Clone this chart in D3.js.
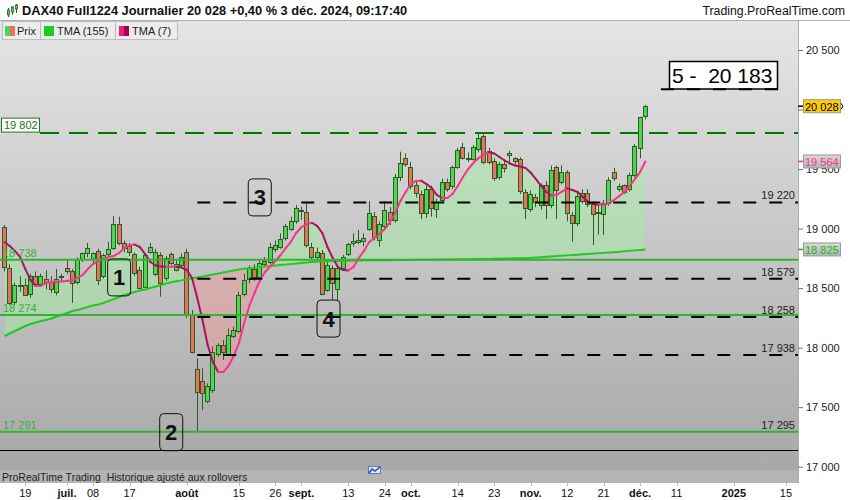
<!DOCTYPE html>
<html><head><meta charset="utf-8">
<script src="https://cdn.jsdelivr.net/npm/d3@7"></script>
<style>
html,body{margin:0;padding:0;background:#fff;}
svg{display:block;font-family:"Liberation Sans",Arial,sans-serif;}
</style></head><body>
<svg id="c" width="850" height="500"></svg>
<script>
// ---- DATA (DAX40 Full1224 daily, 13 June -> 3 Dec 2024) ----
const opens = [19010,18670,18380,18520,18530,18445,18605,18540,18580,18555,
18470,18595,18672,18646,18545,18742,18792,18742,18814,18602,
18786,18837,19038,18876,18850,18786,18652,18512,18806,18624,
18778,18582,18786,18652,18700,18806,18282,17818,17720,17554,
17650,17946,18022,17944,18098,18140,18450,18574,18658,18590,
18728,18722,18826,18848,18918,19000,19058,19150,19142,18848,
18764,18798,18484,18666,18490,18666,18784,18876,18890,18896,
19002,19108,18904,19022,19142,19072,19430,19590,19520,19363,
19290,19128,19332,19170,19240,19394,19358,19514,19682,19590,
19582,19666,19778,19654,19570,19436,19542,19612,19590,19582,
19310,19162,19262,19198,19366,19198,19514,19394,19472,19114,
19044,19296,19302,19212,19130,19122,19212,19472,19338,19366,
19330,19450,19674,19940];
const highs = [19030,18700,18545,18600,18580,18620,18640,18620,18650,18600,
18660,18620,18740,18660,18760,18800,18880,18800,18830,18790,
18890,19106,19100,18900,18880,18800,18680,18790,18880,18830,
18800,18770,18800,18740,18790,18830,18316,17910,17826,17700,
18008,18036,18064,18162,18176,18470,18620,18690,18700,18740,
18760,18880,18900,18960,19040,19100,19198,19184,19212,18880,
18840,18820,18720,18690,18690,18780,18880,18960,18990,18960,
19232,19140,19060,19232,19180,19460,19646,19632,19560,19400,
19320,19360,19360,19250,19420,19420,19530,19680,19720,19640,
19700,19800,19790,19680,19590,19560,19580,19654,19600,19600,
19330,19320,19290,19380,19400,19530,19530,19530,19490,19140,
19300,19330,19330,19230,19200,19240,19430,19510,19380,19370,
19470,19710,19940,20040];
const lows = [18640,18360,18360,18470,18440,18420,18530,18510,18490,18460,
18440,18560,18620,18375,18530,18720,18760,18700,18526,18580,
18760,18820,18860,18800,18770,18600,18490,18500,18790,18600,
18428,18560,18690,18640,18680,18250,17952,17288,17476,17532,
17620,17924,17896,17930,18080,18120,18430,18540,18560,18570,
18680,18700,18800,18830,18900,18980,19040,19072,18840,18740,
18740,18440,18470,18400,18400,18650,18770,18850,18870,18850,
18980,18900,18848,19000,19030,19050,19400,19520,19330,19260,
19080,19090,19100,19090,19220,19310,19330,19500,19580,19560,
19570,19640,19540,19540,19400,19410,19470,19560,19540,19290,
19080,19140,19180,19160,19080,19170,19080,19370,19060,18890,
19020,19210,19180,18862,18950,18946,19190,19400,19310,19290,
19310,19430,19590,19918];
const closes = [18670,18380,18525,18530,18450,18600,18540,18605,18555,18500,
18575,18600,18646,18545,18742,18792,18834,18792,18568,18778,
18826,19038,18876,18830,18800,18627,18501,18778,18848,18806,
18540,18750,18708,18702,18764,18288,17966,17622,17616,17678,
17966,18022,17960,18106,18148,18442,18568,18666,18590,18708,
18700,18848,18862,18912,19022,19064,19170,19156,18868,18764,
18806,18456,18694,18540,18666,18758,18868,18896,18905,18918,
19134,18932,19036,19156,19072,19430,19548,19540,19360,19296,
19128,19332,19170,19226,19394,19338,19514,19660,19590,19582,
19682,19758,19562,19562,19430,19542,19506,19632,19562,19310,
19178,19290,19218,19366,19198,19492,19318,19478,19128,19044,
19274,19230,19212,19122,19140,19212,19408,19422,19360,19310,
19450,19694,19934,20028];
const tma7 = [18887,18854,18812,18761,18660,18568,18518,18518,18543,18551,
18551,18555,18560,18568,18585,18610,18660,18702,18728,18744,
18761,18770,18795,18837,18862,18866,18845,18786,18719,18690,
18681,18680,18680,18680,18673,18652,18585,18417,18232,18022,
17879,17795,17795,17846,17930,18039,18207,18350,18459,18560,
18635,18681,18728,18778,18837,18891,18963,19013,19038,19049,
19022,18963,18845,18753,18677,18652,18648,18677,18753,18812,
18887,18921,18954,18996,19055,19131,19232,19307,19374,19400,
19402,19374,19341,19282,19257,19257,19290,19358,19433,19500,
19551,19593,19622,19643,19631,19601,19572,19547,19530,19521,
19509,19471,19416,19358,19307,19278,19282,19311,19338,19324,
19307,19265,19223,19206,19198,19202,19211,19240,19274,19307,
19358,19416,19475,19564];
const tma155 = [18098,18119,18140,18161,18182,18198,18211,18224,18232,18245,
18261,18274,18291,18308,18316,18329,18341,18354,18362,18375,
18392,18408,18425,18442,18455,18467,18480,18488,18501,18513,
18526,18539,18549,18557,18565,18574,18582,18589,18597,18606,
18614,18623,18631,18639,18648,18656,18662,18667,18672,18677,
18681,18686,18690,18694,18698,18702,18707,18711,18715,18719,
18721,18723,18725,18727,18728,18729,18730,18731,18732,18733,
18734,18734,18734,18735,18735,18736,18736,18737,18737,18738,
18738,18739,18739,18740,18740,18741,18741,18742,18742,18743,
18743,18744,18745,18745,18746,18747,18748,18749,18750,18751,
18752,18754,18757,18760,18763,18766,18769,18772,18775,18778,
18781,18784,18787,18790,18793,18796,18799,18802,18805,18809,
18813,18817,18821,18825];

// x-axis tick labels (bar index in trading days from 13 June 2024)
const xTickIdx    = [4,12,17,24,35,45,52,57,66,73,78,87,94,101,108,115,122,129,140,150];
const xTickLabels = ["19","juil.","08","17","août","15","26","sept.","13","24","oct.","14","23","nov.","12","21","déc.","11","2025","15"];
const xTickBold   = [0,1,0,0,1,0,0,1,0,0,1,0,0,1,0,0,1,0,1,0];
// price-axis ticks (20 000 sits fully under the last-price box in the reference)
const yTicks = [17000,17500,18000,18500,19000,19500,20000,20500];
const yTicksHidden = [20000];

// horizontal levels
const resistanceLevel = 19802;
const greenLevels = [18738, 18274, 17293];
const greenLeftLabels = ["18 738","18 274","17 291"];
const greenRightLabels = ["","","17 295"];
const blackDashLevels = [19220, 18579, 18258, 17938];
const blackDashLabels = ["19 220","18 579","18 258","17 938"];
const blackDashStartIdx = 37;
const baseLevel = 17140;
const targetLevel = 20183;
const targetIdx = [126, 148.5];
// numbered markers: [bar index, level, text]
const markerIdx = [22, 32, 49, 62.2];
const markerLevel = [18590, 17290, 19262, 18244];
const markerText = ["1","2","3","4"];
const lastPrice = 20028, lastTma7 = 19564, lastTma155 = 18825;

// ---- DRAW ----
const W = 850, H = 500;
const svg = d3.select("#c");
const x = d3.scaleLinear().domain([0, 123]).range([4.5, 645.3]);
const y = d3.scaleLinear().domain([17000, 20500]).range([466.7, 50]);
const fmt = v => d3.format(",")(v).replace(/,/g, " ");
const idx = d3.range(closes.length);

const defs = svg.append("defs");
const bg = defs.append("linearGradient").attr("id","bg").attr("x1",0).attr("y1",0).attr("x2",0).attr("y2",1);
bg.append("stop").attr("offset","0%").attr("stop-color","#e5e5e5");
bg.append("stop").attr("offset","100%").attr("stop-color","#a8a8a8");
const gb = defs.append("linearGradient").attr("id","gbox").attr("x1",0).attr("y1",0).attr("x2",0).attr("y2",1);
gb.append("stop").attr("offset","0%").attr("stop-color","#d8d8d8");
gb.append("stop").attr("offset","100%").attr("stop-color","#b4b4b4");
defs.append("clipPath").attr("id","plotclip").append("rect").attr("x",0).attr("y",20).attr("width",798).attr("height",450);
const above = d3.area().x(i => x(i)).y0(20).y1(i => y(tma155[i]));
const below = d3.area().x(i => x(i)).y0(470).y1(i => y(tma155[i]));
defs.append("clipPath").attr("id","clipAbove").append("path").attr("d", above(idx));
defs.append("clipPath").attr("id","clipBelow").append("path").attr("d", below(idx));

svg.append("rect").attr("width",W).attr("height",H).attr("fill","#fff");
svg.append("rect").attr("x",0).attr("y",20).attr("width",798).attr("height",450).attr("fill","url(#bg)");

const g = svg.append("g").attr("clip-path","url(#plotclip)");

// fill between TMA7 and TMA155
const between = d3.area().x(i => x(i)).y0(i => y(tma155[i])).y1(i => y(tma7[i]));
g.append("path").attr("d", between(idx)).attr("fill","rgba(160,240,160,0.45)").attr("clip-path","url(#clipAbove)");
g.append("path").attr("d", between(idx)).attr("fill","rgba(240,150,150,0.45)").attr("clip-path","url(#clipBelow)");

// candles
const edge = "#2b5e24";
const cg = g.append("g");
cg.selectAll("line.w").data(idx).join("line")
  .attr("x1", i => Math.floor(x(i)) + 0.5).attr("x2", i => Math.floor(x(i)) + 0.5)
  .attr("y1", i => y(highs[i])).attr("y2", i => y(lows[i]))
  .attr("stroke", edge).attr("stroke-width", 1);
cg.selectAll("rect.b").data(idx).join("rect")
  .attr("x", i => Math.floor(x(i)) - 2 + 0.5)
  .attr("width", 4)
  .attr("y", i => Math.round(y(Math.max(opens[i], closes[i]))) + 0.5)
  .attr("height", i => Math.max(1, Math.round(Math.abs(y(opens[i]) - y(closes[i])))))
  .attr("fill", i => closes[i] >= opens[i] ? "#4fd54f" : "#e6725f")
  .attr("stroke", edge).attr("stroke-width", 1);

// TMA155
g.append("path").attr("d", d3.line().x(i => x(i)).y(i => y(tma155[i]))(idx))
  .attr("fill","none").attr("stroke","#1ecb1e").attr("stroke-width",2);
// TMA7 coloured by slope
const segs = idx.slice(1);
g.selectAll("line.t7").data(segs).join("line")
  .attr("x1", i => x(i-1)).attr("y1", i => y(tma7[i-1]))
  .attr("x2", i => x(i)).attr("y2", i => y(tma7[i]))
  .attr("stroke", i => tma7[i] >= tma7[i-1] ? "#ff2f8c" : "#a8145e")
  .attr("stroke-width", 2).attr("stroke-linecap","round");

// horizontal levels
greenLevels.forEach((v, k) => {
  g.append("line").attr("x1",0).attr("x2",798).attr("y1",y(v)).attr("y2",y(v))
    .attr("stroke","#2fb52f").attr("stroke-width",2);
  g.append("text").attr("x",3).attr("y",y(v)-3).text(greenLeftLabels[k])
    .attr("font-size","11px").attr("fill","#3aae3a");
  if (greenRightLabels[k]) g.append("text").attr("x",795).attr("y",y(v)-3).attr("text-anchor","end")
    .text(greenRightLabels[k]).attr("font-size","11px").attr("fill","#222");
});
blackDashLevels.forEach((v, k) => {
  g.append("line").attr("x1",x(blackDashStartIdx)).attr("x2",798).attr("y1",y(v)).attr("y2",y(v))
    .attr("stroke","#000").attr("stroke-width",2).attr("stroke-dasharray","13,13");
  g.append("text").attr("x",795).attr("y",y(v)-3).attr("text-anchor","end")
    .text(blackDashLabels[k]).attr("font-size","11px").attr("fill","#222");
});
g.append("line").attr("x1",0).attr("x2",798).attr("y1",Math.round(y(baseLevel))+0.5).attr("y2",Math.round(y(baseLevel))+0.5)
  .attr("stroke","#000").attr("stroke-width",1);
g.append("line").attr("x1",40).attr("x2",798).attr("y1",y(resistanceLevel)).attr("y2",y(resistanceLevel))
  .attr("stroke","#007800").attr("stroke-width",2).attr("stroke-dasharray","19,10");
g.append("rect").attr("x",1.5).attr("y",y(resistanceLevel)-15).attr("width",38).attr("height",14)
  .attr("fill","#fff").attr("stroke","#1c7a1c");
g.append("text").attr("x",4).attr("y",y(resistanceLevel)-4).text(fmt(resistanceLevel))
  .attr("font-size","11px").attr("fill","#1c6e1c");

// numbered markers
markerIdx.forEach((mi, k) => {
  const cx = x(mi), cy = y(markerLevel[k]);
  g.append("rect").attr("x",cx-11.5).attr("y",cy-18.5).attr("width",23).attr("height",37).attr("rx",4)
    .attr("fill","none").attr("stroke","#111").attr("stroke-width",1);
  g.append("text").attr("x",cx).attr("y",cy+8).attr("text-anchor","middle")
    .attr("font-size","22px").attr("font-weight","bold").attr("fill","#111").text(markerText[k]);
});
// target box + its dashed level under the box edge
g.append("rect").attr("x",669.5).attr("y",61.5).attr("width",108).attr("height",27.5)
  .attr("fill","#fff").attr("stroke","#000").attr("stroke-width",1.5);
g.append("text").attr("x",672).attr("y",83).attr("font-size","21px").attr("fill","#000")
  .style("white-space","pre").text("5 -  " + fmt(targetLevel));
g.append("line").attr("x1",x(targetIdx[0])).attr("x2",x(targetIdx[1])).attr("y1",y(targetLevel)+1.5).attr("y2",y(targetLevel)+1.5)
  .attr("stroke","#000").attr("stroke-width",2).attr("stroke-dasharray","13,13");

// bottom strip
svg.append("rect").attr("x",0).attr("y",470).attr("width",798).attr("height",13).attr("fill","#b4b4b4");
svg.append("text").attr("x",2).attr("y",480.5).attr("font-size","10.5px").attr("fill","#222")
  .style("white-space","pre").text("ProRealTime Trading  Historique ajusté aux rollovers");
const ic = svg.append("g").attr("transform","translate(368,466)");
ic.append("rect").attr("x",0.5).attr("y",0.5).attr("width",12).attr("height",7).attr("fill","#dfe8f5").attr("stroke","#5a7fc0");
ic.append("polyline").attr("points","1,7 4,3 7,5 12,1").attr("fill","none").attr("stroke","#2050c0").attr("stroke-width",1.5);

// frame lines
svg.append("line").attr("x1",0).attr("x2",W).attr("y1",20.5).attr("y2",20.5).attr("stroke","#b0b0b0");
svg.append("line").attr("x1",798.5).attr("x2",798.5).attr("y1",20).attr("y2",483).attr("stroke","#b0b0b0");

// right axis
const ax = svg.append("g").attr("transform","translate(798,0)")
  .call(d3.axisRight(y).tickValues(yTicks).tickSize(5).tickPadding(3)
    .tickFormat(v => yTicksHidden.includes(v) ? "" : fmt(v)));
ax.select(".domain").remove();
ax.selectAll("line").attr("stroke","#777");
ax.selectAll("text").attr("font-size","11px").attr("fill","#222").attr("font-family","Liberation Sans, Arial, sans-serif");

function valueBox(v, fill, color) {
  const yy = y(v);
  svg.append("line").attr("x1",798).attr("x2",803).attr("y1",yy).attr("y2",yy).attr("stroke",color).attr("stroke-width",1.5);
  svg.append("rect").attr("x",803.5).attr("y",yy-6.5).attr("width",37).attr("height",13)
    .attr("fill",fill).attr("stroke","#9a9a9a");
  svg.append("text").attr("x",805).attr("y",yy+4.5).attr("font-size","11px").attr("fill",color).text(fmt(v));
}
valueBox(lastPrice, "#ffcc00", "#000");
svg.append("path").attr("d",`M841,${y(lastPrice)-3} L843,${y(lastPrice)} L841,${y(lastPrice)+3}`).attr("stroke","#000").attr("fill","none");
valueBox(lastTma7, "url(#gbox)", "#ff2f8c");
valueBox(lastTma155, "url(#gbox)", "#14b814");

// x axis labels
const xa = svg.append("g");
xTickIdx.forEach((ti, k) => {
  xa.append("line").attr("x1",Math.round(x(ti))+0.5).attr("x2",Math.round(x(ti))+0.5).attr("y1",483).attr("y2",486).attr("stroke","#bbb");
  xa.append("text").attr("x",x(ti)).attr("y",497).attr("text-anchor","middle")
    .attr("font-size","11px").attr("font-weight", xTickBold[k] ? "bold" : "normal")
    .attr("fill","#111").text(xTickLabels[k]);
});

// header
const hi = svg.append("g").attr("transform","translate(5,4)");
[[2,9,6,11,4],[6,6,3,9,2],[10,3,1,7,0]].forEach(c => {
  hi.append("line").attr("x1",c[0]+1.5).attr("x2",c[0]+1.5).attr("y1",c[4]).attr("y2",c[3]+2).attr("stroke","#2b5e24");
  hi.append("rect").attr("x",c[0]+0.5).attr("y",c[2]).attr("width",2).attr("height",c[1]-c[2]+2).attr("fill","#4fd54f").attr("stroke","#2b5e24").attr("stroke-width",0.8);
});
svg.append("text").attr("x",22).attr("y",15).attr("font-size","12.8px").attr("font-weight","bold").attr("fill","#111")
  .text("DAX40 Full1224 Journalier 20 028 +0,40 % 3 déc. 2024, 09:17:40");
svg.append("text").attr("x",845).attr("y",15).attr("text-anchor","end").attr("font-size","12.3px").attr("fill","#111")
  .text("Trading.ProRealTime.com");

// legend
const lg = svg.append("g");
const legendBoxes = [[2,40],[40,115],[115,177]];
legendBoxes.forEach(b => {
  lg.append("rect").attr("x",b[0]+0.5).attr("y",21.5).attr("width",b[1]-b[0]).attr("height",18)
    .attr("fill","#ececec").attr("stroke","#bdbdbd");
});
lg.append("rect").attr("x",5).attr("y",26).attr("width",5).attr("height",10).attr("fill","#4fd54f");
lg.append("rect").attr("x",10).attr("y",26).attr("width",5).attr("height",10).attr("fill","#e6725f");
lg.append("text").attr("x",17).attr("y",35).attr("font-size","11px").attr("fill","#222").text("Prix");
lg.append("rect").attr("x",44).attr("y",26).attr("width",10).attr("height",10).attr("fill","#1ecb1e");
lg.append("text").attr("x",57).attr("y",35).attr("font-size","11px").attr("fill","#222").text("TMA (155)");
lg.append("rect").attr("x",119).attr("y",26).attr("width",5).attr("height",10).attr("fill","#e8207a");
lg.append("rect").attr("x",124).attr("y",26).attr("width",5).attr("height",10).attr("fill","#a0004f");
lg.append("text").attr("x",132).attr("y",35).attr("font-size","11px").attr("fill","#222").text("TMA (7)");
</script>
</body></html>
